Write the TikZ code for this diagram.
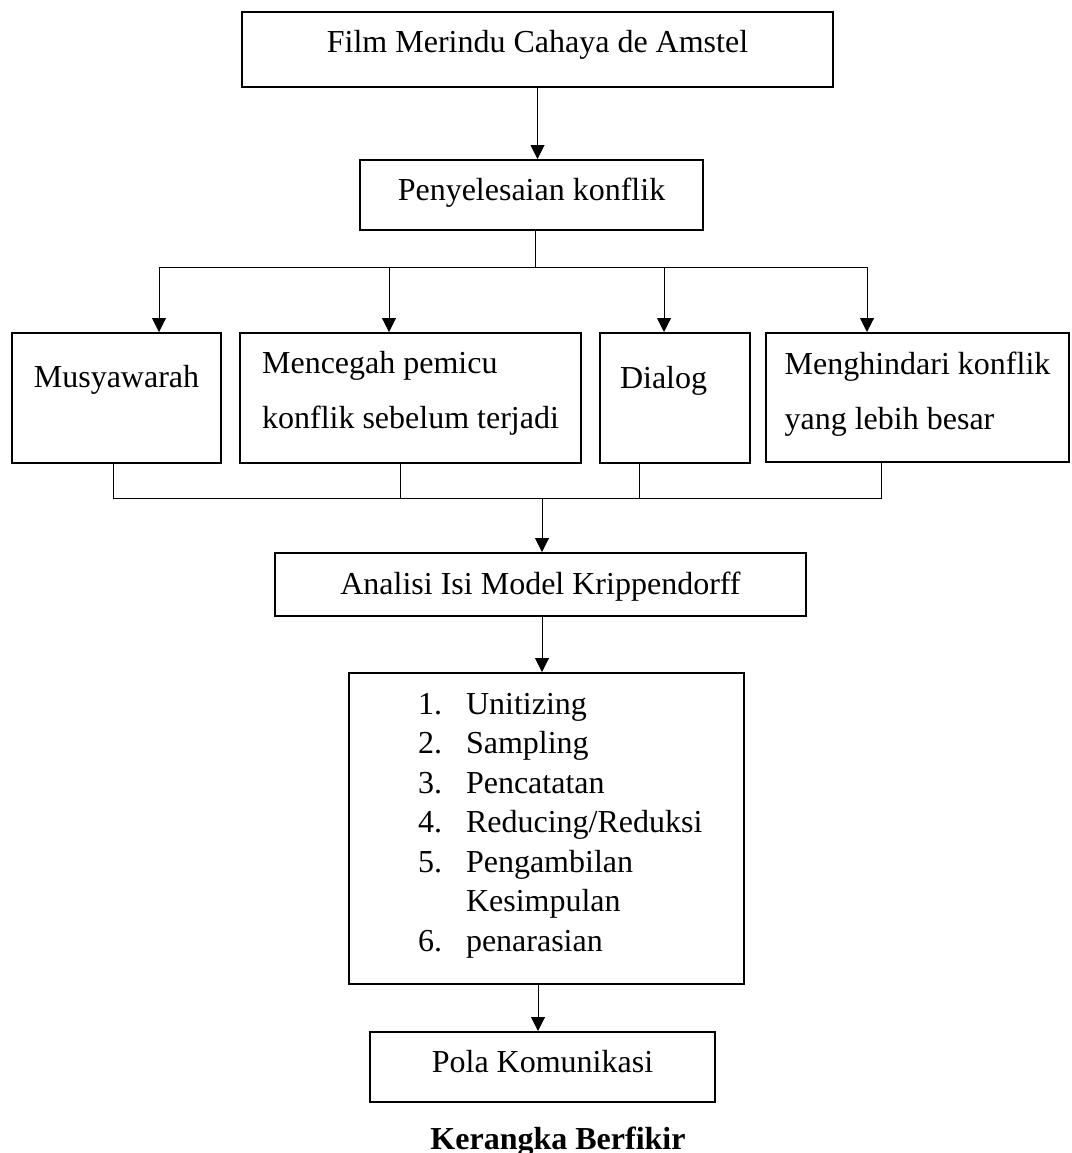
\documentclass[tikz,border=0pt]{standalone}
\usepackage{fontspec}
\setmainfont{Liberation Serif}
\usetikzlibrary{arrows.meta}

\tikzset{
  kotak/.style={draw, line width=2pt, inner sep=0pt},
  panah/.style={-{Triangle[length=14pt,width=14pt]}, line width=1pt},
  garis/.style={line width=1pt},
}

\begin{document}
\begin{tikzpicture}[x=1pt, y=-1pt, font=\fontsize{32pt}{39.5pt}\selectfont]
	\useasboundingbox (0,0) rectangle (1071,1153);

	% kotak atas
	\node (film) [kotak, minimum width=591pt, text height=41pt, text depth=34pt] at (537.5,49.5) {Film Merindu Cahaya de Amstel};
	\node (konf) [kotak, minimum width=343pt, text height=40pt, text depth=30pt] at (531.5,195) {Penyelesaian konflik};

	% empat cara
	\node (musy) [kotak, minimum width=209pt, text height=54pt, text depth=76pt] at (116.5,398) {Musyawarah};
	\node (cegah) [kotak, minimum width=341pt, text height=40pt, text depth=90pt] at (410.5,398) {\begin{tabular}[t]{@{}l@{}}Mencegah pemicu\\[15.5pt] konflik sebelum terjadi\end{tabular}};
	\node (dial) [kotak, text width=110pt, inner xsep=20pt, align=left, text height=55pt, text depth=75pt] at (675,398) {Dialog};
	\node (hindar) [kotak, minimum width=303pt, text height=41pt, text depth=88pt] at (917.5,397.5) {\begin{tabular}[t]{@{}l@{}}Menghindari konflik\\[15.5pt] yang lebih besar\end{tabular}};

	% analisis
	\node (anal) [kotak, minimum width=531pt, text height=41pt, text depth=22pt] at (540.5,584.5) {Analisi Isi Model Krippendorff};
	\node (daftar) [kotak, text height=41pt, text depth=270pt] at (546.5,828.5) {\begin{tabular}[t]{@{\hspace{69pt}}p{48pt}@{}p{278pt}@{}}
		1. & Unitizing\\
		2. & Sampling\\
		3. & Pencatatan\\
		4. & Reducing/Reduksi\\
		5. & Pengambilan\\
		   & Kesimpulan\\
		6. & penarasian
	\end{tabular}};
	\node (pola) [kotak, minimum width=345pt, text height=40pt, text depth=30pt] at (542.5,1067) {Pola Komunikasi};
	\node (judul) [font=\fontsize{32pt}{39.5pt}\selectfont\bfseries, anchor=base] at (558,1149) {Kerangka Berfikir};

	% panah
	\draw[panah] (film.south) -- (film.south |- konf.north);
	\coordinate (cabang) at (535,267);
	\draw[garis] (cabang |- konf.south) -- (cabang);
	\foreach \t/\dx in {musy/42.5, cegah/-21.5, dial/-11, hindar/-50.5}
		\draw[panah] (cabang) -| ([xshift=\dx pt]\t.north);

	\coordinate (gabung) at (542,498);
	\foreach \s/\dx in {musy/-3.5, cegah/-10.5, dial/-36, hindar/-36.5}
		\draw[garis] ([xshift=\dx pt]\s.south) |- (gabung);
	\draw[panah] (gabung) -- (gabung |- anal.north);

	\coordinate (k1) at ([xshift=1.5pt]anal.south);
	\draw[panah] (k1) -- (k1 |- daftar.north);
	\coordinate (k2) at ([xshift=-8.5pt]daftar.south);
	\draw[panah] (k2) -- (k2 |- pola.north);

\end{tikzpicture}
\end{document}
